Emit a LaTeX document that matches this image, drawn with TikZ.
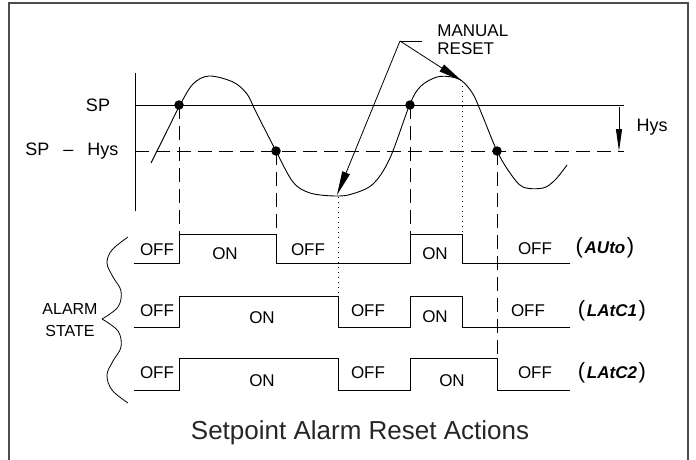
\documentclass[tikz,border=0pt]{standalone}
\usepackage{fontspec}
\setmainfont{Liberation Sans}
\usetikzlibrary{arrows.meta}
\newcommand{\modetext}[1]{{\fontsize{22}{22}\selectfont(}\,{\fontsize{17}{17}\selectfont\bfseries\itshape #1}\,{\fontsize{22}{22}\selectfont)}}
\begin{document}
\begin{tikzpicture}[x=1pt,y=-1pt, line width=0.8pt,
  lbl/.style={font=\fontsize{17}{17}\selectfont, inner sep=0pt},
  axlbl/.style={font=\fontsize{18}{18}\selectfont, inner sep=0pt},
  wave/.style={line width=0.9pt},
  guide/.style={dash pattern=on 14pt off 7pt, line width=0.8pt},
  dotguide/.style={dash pattern=on 1pt off 4pt, line width=1pt},
  dotmark/.style={circle, fill, inner sep=0pt, minimum size=9.5pt},
  longtip/.style={-{Triangle[length=24pt,width=8pt]}},
  modelbl/.style={inner sep=0pt}]
\useasboundingbox (0,0) rectangle (696,460);
% frame
\draw[line width=2pt, color=black!70] (9,460) -- (9,3) -- (688,3) -- (688,460);

% axis and levels
\draw (135,73) -- (135,211);
\draw (135,105) -- (624,105);
\draw[guide] (135,151) -- (624,151);
\node[axlbl] (sp) at (98,105) {SP};
\node[axlbl] (sphys) at (72,151) {SP\hspace{14pt}--\hspace{14pt}Hys};

% hysteresis arrow
\coordinate (hysA) at (619,107);
\coordinate (hysB) at (619,151);
\draw[-{Triangle[length=22pt,width=6pt]}] (hysA) -- (hysB);
\node[axlbl] (hys) at (652,127) {Hys};

% process curve
\draw[wave] plot[smooth, tension=0.55] coordinates {
  (151,163) (166,133) (180,105) (193,84) (209,76) (233,82) (247,94)
  (256,112) (276,151) (293,182) (310,193) (335,196) (352,194) (373,184)
  (390,158) (410,104) (421,86) (437,77) (452,77) (462,81) (473,94)
  (483,117) (497,151) (510,173) (523,187) (543,188) (555,180) (567,165)};

% crossing points
\node[dotmark] (d1) at (179,105) {};
\node[dotmark] (d2) at (276,151) {};
\node[dotmark] (d3) at (410,105) {};
\node[dotmark] (d4) at (497,151) {};
\coordinate (trough) at (338,197);
\coordinate (peak) at (462,81);

% alarm rows
\coordinate (r1a) at (179,234); \coordinate (r1b) at (276,234);
\coordinate (r1c) at (410,234); \coordinate (r1d) at (462,234);
\coordinate (r2c) at (338,296); \coordinate (r3g) at (497,358);
\draw[wave] (134,263) -- (179,263) -- (r1a) -- (r1b) -- (276,263) -- (410,263)
  -- (r1c) -- (r1d) -- (462,263) -- (570,263);
\draw[wave] (134,327) -- (179,327) -- (179,296) -- (r2c) -- (338,327) -- (410,327)
  -- (410,296) -- (462,296) -- (462,327) -- (570,327);
\draw[wave] (134,390) -- (179,390) -- (179,358) -- (338,358) -- (338,390) -- (410,390)
  -- (410,358) -- (r3g) -- (497,390) -- (570,390);

% guides
\draw[guide] (d1.center) -- (r1a);
\draw[guide] (d2.center) -- (r1b);
\draw[guide] (d3.center) -- (r1c);
\draw[guide] (d4.center) -- (r3g);
\draw[dotguide] (trough) -- (r2c);
\draw[dotguide] (peak) -- (r1d);

% manual reset
\node[lbl, align=left, anchor=west, font=\fontsize{17}{18}\selectfont] (mrtext) at (437,40) {MANUAL\\RESET};
\coordinate (mr) at (400,41);
\coordinate (mrend) at (422,41);
\draw (mrend) -- (mr);
\draw[longtip] (mr) -- (337,195);
\draw[longtip] (mr) -- (peak);

% row labels
\node[lbl] (o11) at (157,250) {OFF};
\node[lbl] (o12) at (225,254) {ON};
\node[lbl] (o13) at (308,250) {OFF};
\node[lbl] (o14) at (435,254) {ON};
\node[lbl] (o15) at (535,249) {OFF};
\node[modelbl] (m1) at (605,248) {\modetext{AUto}};

\node[lbl] (o21) at (157,311) {OFF};
\node[lbl] (o22) at (262,318) {ON};
\node[lbl] (o23) at (368,311) {OFF};
\node[lbl] (o24) at (435,317) {ON};
\node[lbl] (o25) at (528,311) {OFF};
\node[modelbl] (m2) at (612,311) {\modetext{LAtC1}};

\node[lbl] (o31) at (157,373) {OFF};
\node[lbl] (o32) at (262,381) {ON};
\node[lbl] (o33) at (368,373) {OFF};
\node[lbl] (o34) at (452,381) {ON};
\node[lbl] (o35) at (535,373) {OFF};
\node[modelbl] (m3) at (612,373) {\modetext{LAtC2}};

% brace
\draw plot[smooth, tension=0.6] coordinates {(128,237) (112,250) (107,263) (113,277) (121,291) (118,307) (102,319)};
\draw plot[smooth, tension=0.6] coordinates {(102,319) (118,331) (121,347) (113,361) (107,375) (112,390) (128,403)};
\node[lbl, align=center, font=\fontsize{16}{22}\selectfont] (alarm) at (70,320) {ALARM\\STATE};

% title
\node[inner sep=0pt, font=\fontsize{26}{26}\selectfont, color=black!85] (title) at (360,433) {Setpoint Alarm Reset Actions};
\end{tikzpicture}
\end{document}
